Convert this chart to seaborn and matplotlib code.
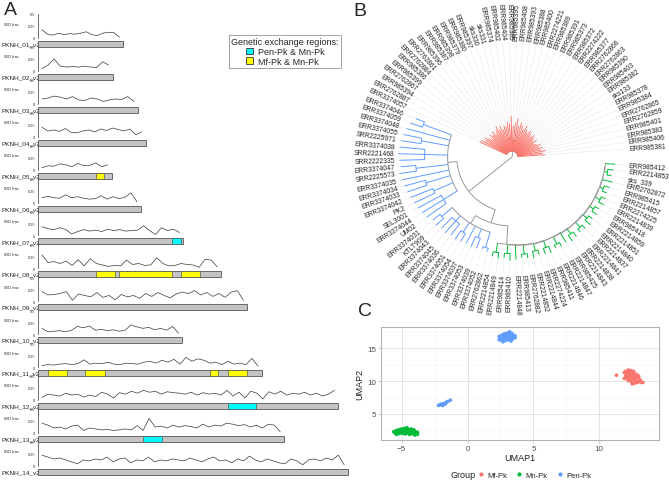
import numpy as np
import pandas as pd
import matplotlib
matplotlib.use('Agg')
import matplotlib.pyplot as plt
from matplotlib.patches import Rectangle, Patch
from matplotlib.lines import Line2D
import seaborn as sns

sns.set_theme(style='white')
plt.rcParams['font.family'] = ['Liberation Sans', 'DejaVu Sans']

# =============================================================================
#                         DATA
# =============================================================================
# --- panel A: IBD fraction along each chromosome (Mb) ---
chrom_names = ['PKNH_01_v2', 'PKNH_02_v2', 'PKNH_03_v2', 'PKNH_04_v2', 'PKNH_05_v2',
               'PKNH_06_v2', 'PKNH_07_v2', 'PKNH_08_v2', 'PKNH_09_v2', 'PKNH_10_v2',
               'PKNH_11_v2', 'PKNH_12_v2', 'PKNH_13_v2', 'PKNH_14_v2']
chrom_len = [0.88, 0.77, 1.03, 1.11, 0.76, 1.06, 1.50, 1.89, 2.16, 1.49, 2.31, 3.10, 2.54, 3.20]

ibd_01 = [0.17, 0.08, 0.06, 0.10, 0.07, 0.09, 0.08, 0.10, 0.13, 0.07, 0.05, 0.10, 0.12, 0.11, 0.02]
ibd_02 = [0.05, 0.12, 0.25, 0.10, 0.08, 0.09, 0.08, 0.10, 0.08, 0.07, 0.19, 0.12]
ibd_03 = [0.10, 0.12, 0.16, 0.14, 0.10, 0.15, 0.08, 0.07, 0.12, 0.10, 0.05, 0.08, 0.10, 0.09, 0.15, 0.05]
ibd_04 = [0.20, 0.12, 0.14, 0.11, 0.17, 0.09, 0.08, 0.12, 0.14, 0.10, 0.16, 0.13, 0.18, 0.15,
          0.12, 0.16, 0.04, 0.10]
ibd_05 = [0.04, 0.08, 0.07, 0.12, 0.10, 0.06, 0.13, 0.08, 0.09, 0.14, 0.06, 0.10]
ibd_06 = [0.10, 0.13, 0.10, 0.09, 0.16, 0.10, 0.12, 0.09, 0.07, 0.08, 0.14, 0.07, 0.12, 0.08,
          0.11, 0.20, 0.02]
ibd_07 = [0.18, 0.14, 0.12, 0.16, 0.12, 0.03, 0.08, 0.12, 0.09, 0.11, 0.08, 0.13, 0.10, 0.12,
          0.09, 0.10, 0.11, 0.20, 0.10, 0.02, 0.16, 0.10, 0.13, 0.06]
ibd_08 = [0.28, 0.12, 0.14, 0.10, 0.15, 0.06, 0.18, 0.05, 0.20, 0.10, 0.07, 0.04, 0.06, 0.05,
          0.17, 0.08, 0.10, 0.06, 0.07, 0.22, 0.10, 0.05, 0.06, 0.10, 0.08, 0.07, 0.02, 0.19,
          0.17, 0.03]
ibd_09 = [0.20, 0.13, 0.14, 0.16, 0.20, 0.02, 0.15, 0.12, 0.09, 0.18, 0.08, 0.12, 0.03, 0.14,
          0.09, 0.12, 0.06, 0.16, 0.10, 0.18, 0.12, 0.07, 0.15, 0.19, 0.16, 0.22, 0.13, 0.18,
          0.10, 0.16, 0.08, 0.19, 0.22, 0.02]
ibd_10 = [0.12, 0.05, 0.06, 0.07, 0.05, 0.08, 0.16, 0.13, 0.17, 0.08, 0.10, 0.07, 0.09, 0.06,
          0.08, 0.19, 0.15, 0.12, 0.14, 0.09, 0.12, 0.08, 0.16, 0.02]
ibd_11 = [0.03, 0.05, 0.04, 0.06, 0.07, 0.05, 0.07, 0.15, 0.06, 0.08, 0.07, 0.10, 0.06, 0.05,
          0.08, 0.07, 0.06, 0.10, 0.12, 0.08, 0.14, 0.10, 0.16, 0.06, 0.20, 0.12, 0.17, 0.14,
          0.08, 0.10, 0.05, 0.12, 0.06, 0.08, 0.05, 0.18, 0.02]
ibd_12 = [0.05, 0.12, 0.10, 0.08, 0.14, 0.10, 0.12, 0.06, 0.10, 0.07, 0.16, 0.12, 0.04, 0.15,
          0.12, 0.18, 0.14, 0.20, 0.16, 0.18, 0.12, 0.17, 0.15, 0.14, 0.12, 0.16, 0.10, 0.15,
          0.12, 0.14, 0.10, 0.20, 0.08, 0.16, 0.04, 0.18, 0.14, 0.02, 0.17, 0.12, 0.18, 0.10,
          0.14, 0.12, 0.16, 0.10, 0.14, 0.08, 0.12, 0.20]
ibd_13 = [0.20, 0.16, 0.10, 0.12, 0.08, 0.14, 0.16, 0.05, 0.10, 0.08, 0.06, 0.07, 0.05, 0.06,
          0.08, 0.06, 0.15, 0.05, 0.30, 0.12, 0.14, 0.10, 0.16, 0.12, 0.15, 0.13, 0.10, 0.18,
          0.12, 0.16, 0.14, 0.20, 0.18, 0.15, 0.17, 0.12, 0.16, 0.10, 0.18, 0.16, 0.02]
ibd_14 = [0.22, 0.18, 0.14, 0.16, 0.12, 0.08, 0.04, 0.12, 0.10, 0.14, 0.12, 0.18, 0.08, 0.14,
          0.16, 0.06, 0.12, 0.10, 0.18, 0.08, 0.12, 0.10, 0.14, 0.12, 0.10, 0.16, 0.12, 0.08,
          0.14, 0.18, 0.10, 0.12, 0.06, 0.14, 0.10, 0.20, 0.12, 0.08, 0.14, 0.10, 0.06, 0.04,
          0.14, 0.10, 0.02, 0.12, 0.14, 0.10, 0.16, 0.12, 0.22, 0.02]
ibd_all = [ibd_01, ibd_02, ibd_03, ibd_04, ibd_05, ibd_06, ibd_07,
           ibd_08, ibd_09, ibd_10, ibd_11, ibd_12, ibd_13, ibd_14]

# genetic exchange regions (chromosome number, start Mb, end Mb, type)
exch_chrom = [5, 7, 8, 8, 8, 11, 11, 11, 11, 12, 13]
exch_start = [0.60, 1.38, 0.60, 0.84, 1.48, 0.10, 0.49, 1.77, 1.96, 1.96, 1.08]
exch_end = [0.68, 1.48, 0.79, 1.38, 1.67, 0.30, 0.69, 1.86, 2.16, 2.25, 1.28]
exch_type = ['Mf', 'Pen', 'Mf', 'Mf', 'Mf', 'Mf', 'Mf', 'Mf', 'Mf', 'Pen', 'Pen']

# --- panel B: tree (tips counter-clockwise from the right) ---
red_tips = ['ERR985381', 'ERR985406', 'ERR985383', 'ERR985401', 'ERR2762859', 'ERR2762865',
            'ERR985384', 'ERR985378', 'sks133', 'ERR985382', 'ERR985403', 'ERR985390',
            'ERR2762863', 'ERR2762866', 'ERR985377', 'ERR2274222', 'ERR985372', 'ERR985373',
            'ERR985391', 'ERR985389', 'ERR2274221', 'ERR985400', 'ERR985388', 'ERR985393',
            'ERR985408', 'ERR985395', 'ERR985385', 'ERR985404', 'ERR985402', 'ERR985374',
            'sks331', 'sks330', 'ERR985397', 'ERR985380', 'ERR985379', 'ERR985398',
            'ERR985387', 'ERR985396', 'ERR2762861', 'ERR2762884', 'ERR985386', 'ERR985399',
            'ERR2762867', 'ERR985394', 'ERR2762887', 'ERR3374057']
red_tip_r = [0.29, 0.27, 0.30, 0.26, 0.28, 0.25, 0.27, 0.24, 0.22, 0.26, 0.23, 0.25, 0.27, 0.24,
             0.26, 0.28, 0.25, 0.27, 0.30, 0.26, 0.29, 0.31, 0.28, 0.34, 0.30, 0.27, 0.36, 0.29,
             0.31, 0.27, 0.28, 0.25, 0.29, 0.26, 0.30, 0.27, 0.24, 0.28, 0.25, 0.27, 0.23, 0.26,
             0.29, 0.27, 0.30, 0.31]
blue_tips = ['ERR3374046', 'ERR3374059', 'ERR3374048', 'ERR3374055', 'SRR2225971', 'ERR3374038',
             'SRR2221468', 'SRR2222335', 'ERR3374047', 'SRR2225573', 'ERR3374035', 'ERR3374034',
             'ERR3374033', 'ERR3374042', 'PK2', 'SEL3001', 'ERR3374044', 'UM02',
             'ERR3374031', 'KTLT909', 'ERR3374043', 'ERR3374045', 'ERR3374036', 'ERR3374051',
             'ERR3374054', 'ERR3374037', 'ERR3374053', 'ERR3374039', 'ERR3374052', 'ERR2762862']
blue_tip_r = [0.90, 0.93, 0.95, 0.96, 0.97, 0.98, 0.99, 0.98, 0.97, 0.99, 0.98, 0.97, 0.96, 0.95,
              0.94, 0.93, 0.92, 0.91, 0.88, 0.89, 0.87, 0.88, 0.86, 0.87, 0.86, 0.85, 0.86, 0.85,
              0.84, 0.85]
blue_upper_groups = [2, 1, 2, 3, 2, 1, 2, 2, 3]
blue_upper_node_r = [0.82, None, 0.80, 0.76, 0.84, None, 0.78, 0.74, 0.70]
blue_lower_groups = [2, 3, 2, 1, 2, 2]
blue_lower_node_r = [0.80, 0.74, 0.78, None, 0.76, 0.82]
green_tips = ['ERR2214854', 'ERR2214849', 'ERR985414', 'ERR985410', 'ERR2214848', 'ERR985413',
              'ERR2762882', 'ERR2214852', 'ERR2214844', 'ERR2274224', 'ERR985411', 'ERR2214846',
              'ERR2214847', 'ERR985425', 'ERR2214843', 'ERR2214838', 'ERR2214841', 'ERR2214837',
              'ERR2214840', 'ERR2214851', 'ERR2214859', 'ERR985418', 'ERR2214839', 'ERR2274225',
              'ERR2214857', 'ERR985415', 'ERR2762872', 'sks_339', 'ERR2214853', 'ERR985412']
green_tip_r = [0.88, 0.89, 0.88, 0.90, 0.89, 0.88, 0.89, 0.90, 0.88, 0.89, 0.90, 0.88, 0.89, 0.88,
               0.90, 0.89, 0.88, 0.89, 0.90, 0.88, 0.89, 0.88, 0.90, 0.89, 0.88, 0.89, 0.90, 0.88,
               0.89, 0.90]
green_groups = [2, 2, 1, 2, 2, 2, 2, 1, 2, 2, 2, 2, 2, 2, 1, 2, 1]
green_node_r = [0.84, 0.84, None, 0.85, 0.84, 0.84, 0.85, None, 0.84, 0.85, 0.84, 0.84, 0.85,
                0.84, None, 0.84, None]
green_spine_r = [0.76, 0.765, 0.77, 0.775, 0.78, 0.78, 0.785, 0.79, 0.79, 0.795, 0.80, 0.80,
                 0.805, 0.81, 0.81, 0.815]

# --- panel C: UMAP ---
mf_x = [11.3, 11.9, 12.0, 12.1, 12.2, 12.3, 12.4, 12.5, 12.6, 12.7, 12.0, 12.2, 12.4, 12.6, 12.8,
        13.0, 11.9, 12.1, 12.3, 12.5, 12.7, 12.9, 13.1, 12.2, 12.4, 12.6, 12.8, 13.0, 13.2, 12.5,
        12.7, 12.9, 13.1, 13.3, 12.1, 12.3, 12.5, 12.2, 12.4, 12.6, 12.8, 12.0, 12.3, 12.9, 12.7]
mf_y = [10.9, 11.3, 11.5, 11.2, 11.7, 11.4, 11.6, 11.3, 11.5, 11.1, 10.8, 10.9, 11.0, 10.8, 11.0,
        10.7, 10.4, 10.5, 10.3, 10.6, 10.4, 10.5, 10.2, 10.1, 10.0, 10.2, 9.9, 10.0, 9.8, 9.6,
        9.7, 9.8, 10.0, 9.8, 11.0, 10.7, 10.9, 10.3, 10.6, 10.5, 10.7, 10.6, 11.1, 10.9, 10.2]
mn_x = [-5.6, -5.4, -5.2, -5.0, -4.8, -4.6, -4.4, -4.2, -4.0, -3.8, -5.5, -5.3, -5.1, -4.9, -4.7,
        -4.5, -4.3, -4.1, -3.9, -5.4, -5.2, -5.0, -4.8, -4.6, -4.4, -4.2, -4.0, -5.1, -4.9, -4.7,
        -4.5, -4.3, -5.3, -4.6, -4.1, -3.8]
mn_y = [2.3, 2.5, 2.6, 2.7, 2.8, 2.9, 2.6, 2.5, 2.4, 2.2, 2.1, 2.2, 2.4, 2.3, 2.5, 2.4, 2.3, 2.2,
        2.0, 1.9, 2.0, 2.1, 2.0, 2.1, 1.9, 2.0, 1.8, 2.6, 2.2, 2.0, 2.6, 2.7, 2.4, 2.3, 2.6, 1.9]
pen_x = [2.4, 2.6, 2.8, 3.0, 3.2, 3.4, 3.6, 2.5, 2.7, 2.9, 3.1, 3.3, 3.5, 2.4, 2.6, 2.8, 3.0, 3.2,
         3.4, 3.6, 2.7, 2.9, 3.1, 3.3, 2.8, 3.0, 3.2, 2.6, 3.4,
         -2.2, -2.0, -1.9, -1.8, -1.7, -1.6, -1.5, -1.3, -2.1, -1.9]
pen_y = [16.8, 17.0, 17.2, 17.3, 17.5, 17.2, 16.9, 16.5, 16.6, 16.8, 16.9, 17.0, 16.7, 16.3,
         16.2, 16.4, 16.5, 16.6, 16.4, 16.6, 16.0, 16.2, 16.3, 16.1, 17.1, 16.9, 17.3, 16.4, 16.8,
         6.3, 6.5, 6.4, 6.6, 6.5, 6.8, 6.9, 7.1, 6.4, 6.3]

RED, GREEN, BLUE, GRAY = '#F8766D', '#00BA38', '#619CFF', '#9a9a9a'

# =============================================================================
#                         FIGURE
# =============================================================================
W, H = 669, 481
fig = plt.figure(figsize=(W / 100, H / 100), dpi=100)


def fbox(x0, y0, x1, y1):
    return [x0 / W, 1 - y1 / H, (x1 - x0) / W, (y1 - y0) / H]


# ---------------------------- panel A ---------------------------------------
px_per_mb = 96.9
for i, (name, L, vals) in enumerate(zip(chrom_names, chrom_len, ibd_all)):
    y0 = 39 + 32.9 * i
    ax = fig.add_axes(fbox(38, y0 - 25, 352, y0 + 10))
    ax.patch.set_visible(False)
    xs = np.linspace(0.04, L - 0.04, len(vals))
    sns.lineplot(x=xs, y=vals, ax=ax, color='#3a3a3a', lw=0.5)
    ax.add_patch(Rectangle((0, -9 / 48), L, 6 / 48, fc='#c4c4c4', ec='#555555', lw=0.6, zorder=3))
    for c, s, e, t in zip(exch_chrom, exch_start, exch_end, exch_type):
        if c == i + 1:
            col = '#00FFFF' if t == 'Pen' else '#FFFF00'
            ax.add_patch(Rectangle((s, -9 / 48), e - s, 6 / 48, fc=col, ec='#555555', lw=0.5, zorder=4))
    ax.text(-37 / px_per_mb, -6 / 48, name, fontsize=4.6, va='center', ha='left', zorder=1,
            clip_on=False, color='#222222')
    ax.text(-34 / px_per_mb, 0.3, 'IBD frac', fontsize=3, va='center', ha='left', clip_on=False,
            color='#333333')
    ax.set_xlim(0, 314 / px_per_mb)
    ax.set_ylim(-10 / 48, 25 / 48)
    for sp in ['top', 'right', 'bottom']:
        ax.spines[sp].set_visible(False)
    ax.spines['left'].set_bounds(0, 0.5)
    ax.spines['left'].set_linewidth(0.5)
    ax.spines['left'].set_color('#333333')
    ax.set_xticks([])
    ax.set_yticks([0, 0.25, 0.5])
    ax.set_yticklabels(['0', '0.25', '0.5'])
    ax.tick_params(axis='y', labelsize=2.8, length=1.5, width=0.4, pad=0.5, colors='#333333')
    ax.set_xlabel('')
    ax.set_ylabel('')

leg = fig.legend(handles=[Patch(fc='#00FFFF', ec='#333333', lw=0.6),
                          Patch(fc='#FFFF00', ec='#333333', lw=0.6)],
                 labels=['Pen-Pk & Mn-Pk', 'Mf-Pk & Mn-Pk'],
                 title='Genetic exchange regions:', loc='upper left',
                 bbox_to_anchor=(229 / W, 1 - 36 / H), fontsize=6.5, title_fontsize=6.5,
                 frameon=True, fancybox=False, edgecolor='#777777', borderpad=0.25,
                 handlelength=0.8, handleheight=0.8, labelspacing=0.1, handletextpad=0.5,
                 borderaxespad=0)
leg.get_frame().set_linewidth(0.6)

# ---------------------------- panel B ---------------------------------------
axb = fig.add_axes(fbox(352, 0, 669, 316))
axb.set_xlim(-160 / 115, 157 / 115)
axb.set_ylim(-158 / 115, 158 / 115)
axb.axis('off')

tips = red_tips + blue_tips + green_tips
tip_r = red_tip_r + blue_tip_r + green_tip_r
tip_col = [RED] * len(red_tips) + [BLUE] * len(blue_tips) + [GREEN] * len(green_tips)
n_tip = len(tips)
tip_ang = 4 + (356 - 4) * np.arange(n_tip) / (n_tip - 1)


def leaf(i):
    return {'i': i, 'r': tip_r[i], 'c': tip_col[i]}


def node(r, kids, c=GRAY):
    return {'r': r, 'kids': kids, 'c': c}


def grouped(offset, groups, node_r, col):
    kids, k = [], offset
    for g, nr in zip(groups, node_r):
        if g == 1:
            kids.append(leaf(k))
        else:
            kids.append(node(nr, [leaf(k + j) for j in range(g)], col))
        k += g
    return kids, k


red_node = node(0.05, [leaf(i) for i in range(len(red_tips))])
off = len(red_tips)
bu_kids, off = grouped(off, blue_upper_groups, blue_upper_node_r, BLUE)
bl_kids, off = grouped(off, blue_lower_groups, blue_lower_node_r, BLUE)
g_kids, off = grouped(off, green_groups, green_node_r, GREEN)
# green clade as a ladder
g_node = node(green_spine_r[-1], g_kids[-2:])
for k in range(len(g_kids) - 3, -1, -1):
    g_node = node(green_spine_r[k], [g_kids[k], g_node])
tree = node(0.0, [red_node,
                  node(0.48, [node(0.56, bu_kids),
                              node(0.60, [node(0.68, bl_kids), g_node])])])


def set_ang(n):
    if 'i' in n:
        n['a'] = tip_ang[n['i']]
    else:
        n['a'] = np.mean([set_ang(k) for k in n['kids']])
    return n['a']


set_ang(tree)


def draw(n, pr):
    a = np.deg2rad(n['a'])
    axb.plot([pr * np.cos(a), n['r'] * np.cos(a)], [pr * np.sin(a), n['r'] * np.sin(a)],
             color=n['c'], lw=0.7, solid_capstyle='butt')
    if 'i' in n:
        axb.plot([n['r'] * np.cos(a), 1.0 * np.cos(a)], [n['r'] * np.sin(a), 1.0 * np.sin(a)],
                 color='#d0d0d0', lw=0.4, ls=(0, (1, 1.2)))
        deg = n['a']
        if 90 < deg < 270:
            rot, ha = deg - 180, 'right'
        else:
            rot, ha = deg, 'left'
        axb.text(1.02 * np.cos(a), 1.02 * np.sin(a), tips[n['i']], fontsize=4.9, rotation=rot,
                 rotation_mode='anchor', ha=ha, va='center', color='#222222')
        return
    angs = [k['a'] for k in n['kids']]
    th = np.deg2rad(np.linspace(min(angs), max(angs), 60))
    axb.plot(n['r'] * np.cos(th), n['r'] * np.sin(th), color=n['c'], lw=0.7)
    for k in n['kids']:
        draw(k, n['r'])


draw(tree, 0.0)

# ---------------------------- panel C ---------------------------------------
umap_df = pd.DataFrame({
    'UMAP1': mf_x + mn_x + pen_x,
    'UMAP2': mf_y + mn_y + pen_y,
    'Group': ['Mf-Pk'] * len(mf_x) + ['Mn-Pk'] * len(mn_x) + ['Pen-Pk'] * len(pen_x),
})
axc = fig.add_axes(fbox(381, 328, 659, 441))
sns.scatterplot(data=umap_df, x='UMAP1', y='UMAP2', hue='Group',
                palette={'Mf-Pk': RED, 'Mn-Pk': GREEN, 'Pen-Pk': BLUE},
                s=7, linewidth=0, ax=axc, legend=False)
axc.set_xlim(-6.57, 14.53)
axc.set_ylim(1.04, 18.24)
axc.set_xticks([-5, 0, 5, 10])
axc.set_yticks([5, 10, 15])
axc.set_xticks([-2.5, 2.5, 7.5, 12.5], minor=True)
axc.set_yticks([2.5, 7.5, 12.5, 17.5], minor=True)
axc.grid(True, which='major', color='#dedede', lw=0.6)
axc.grid(True, which='minor', color='#efefef', lw=0.35)
axc.set_axisbelow(True)
for sp in axc.spines.values():
    sp.set_color('#b3b3b3')
    sp.set_linewidth(0.8)
axc.tick_params(which='major', labelsize=5.8, labelcolor='#4d4d4d', color='#b3b3b3',
                length=2, width=0.5, pad=1.5, bottom=True, left=True)
axc.tick_params(which='minor', length=0)
axc.set_xlabel('UMAP1', fontsize=6.5, labelpad=1, color='#222222')
axc.set_ylabel('UMAP2', fontsize=6.5, labelpad=2, color='#222222')

fig.text(450 / W, 1 - 476 / H, 'Group', fontsize=6.5, va='center', ha='left', color='#222222')
fig.legend(handles=[Line2D([], [], ls='', marker='o', ms=2, color=c) for c in (RED, GREEN, BLUE)],
           labels=['Mf-Pk', 'Mn-Pk', 'Pen-Pk'], ncol=3, loc='center left',
           bbox_to_anchor=(478 / W, 1 - 476 / H), frameon=False, fontsize=5.5,
           handlelength=0.8, handletextpad=0.4, columnspacing=1.2, borderaxespad=0,
           borderpad=0)

# panel letters
fig.text(4 / W, 1 - 2 / H, 'A', fontsize=14, va='top', ha='left')
fig.text(353 / W, 1 - 3 / H, 'B', fontsize=14, va='top', ha='left')
fig.text(358 / W, 1 - 303 / H, 'C', fontsize=14, va='top', ha='left')

fig.savefig('out.png', dpi=100)
